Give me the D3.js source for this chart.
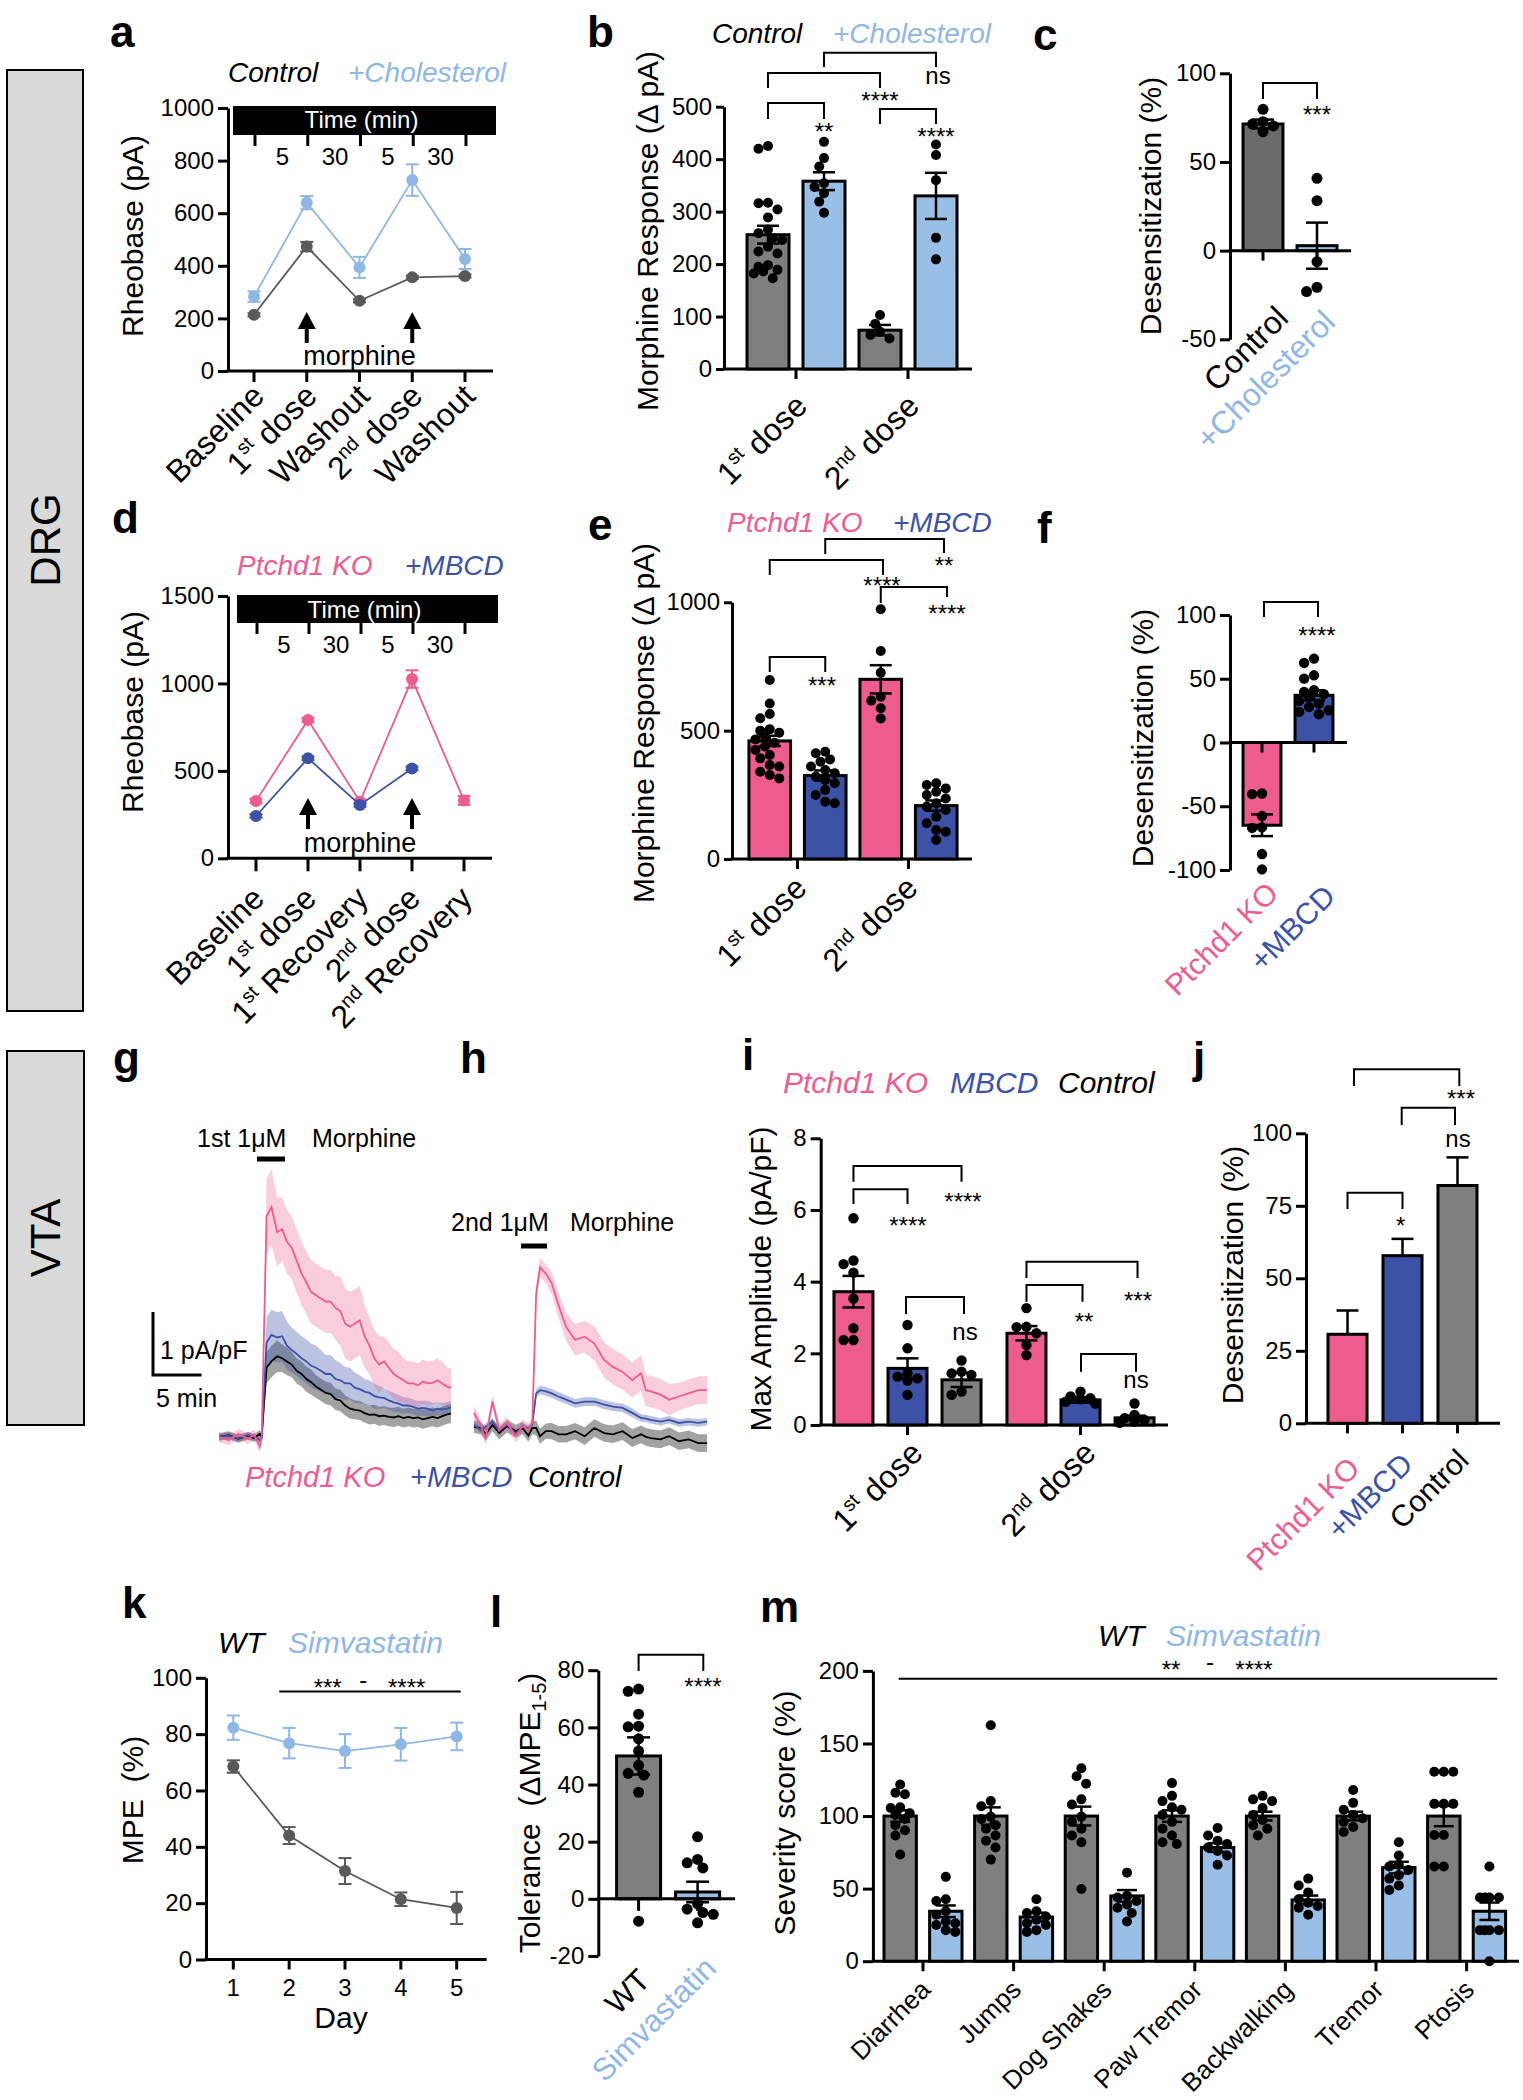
<!DOCTYPE html>
<html><head><meta charset="utf-8">
<script src="https://cdn.jsdelivr.net/npm/d3@7"></script>
<style>
body{margin:0;background:#fff;}
svg{display:block;}
</style></head><body>
<svg id="fig" width="1523" height="2100"></svg>
<script>
// ---------------- DATA ----------------
// panel a
const catsA = ['Baseline','1st dose','Washout','2nd dose','Washout'];
const ctrlA = [214,473,267,356,361];
const ctrlAErr = [6,18,6,6,6];
const cholA = [283,640,394,726,426];
const cholAErr = [20,25,40,60,38];
const timeLabels = ['5','30','5','30'];
// panel b
const groupsB = ['1st dose','2nd dose'];
const seriesB = ['Control','+Cholesterol'];
const ctrlB = [256,74], ctrlBErr = [17,10];
const cholB = [358,330], cholBErr = [17,44];
const ctrlBDots = [[425,420,317,316,304,289,266,259,249,246,233,224,220,198,195,189,186,182,173],[103,86,71,65,58]];
const cholBDots = [[433,402,386,354,347,335,319,298],[428,408,360,250,209]];
// panel c
const catsC = ['Control','+Cholesterol'];
const valsC = [71.4,2.8], errsC = [2.5,13];
const dotsC = [[79.7,72.7,71.4,70.3,67.1],[40.8,28.2,-6.2,-20.7,-23.1]];
// panel d
const catsD = ['Baseline','1st dose','1st Recovery','2nd dose','2nd Recovery'];
const koD = [328,791,324,1025,331], koDErr = [12,12,12,50,25];
const mbcdD = [242,572,305,514], mbcdDErr = [10,10,10,10];
// panel e
const groupsE = ['1st dose','2nd dose'];
const seriesE = ['Ptchd1 KO','+MBCD'];
const koE = [460,700], koEErr = [20,55];
const mbcdE = [325,208], mbcdEErr = [20,20];
const koEDots = [[697,606,565,548,505,500,492,477,466,453,438,425,405,392,366,360,340,327,314],[973,810,726,632,617,587,547]];
const mbcdEDots = [[418,412,388,379,360,347,334,321,308,295,269,249,223,217],[295,288,275,262,249,236,217,204,191,165,139,113,106,74]];
// panel f
const catsF = ['Ptchd1 KO','+MBCD'];
const valsF = [-64.9,37], errsF = [8.5,4];
const dotsF = [[-40,-40.5,-57.7,-66.6,-67,-87.5,-99.5],[65.8,62.4,52.7,50.1,41,39.7,37.9,35.8,32.6,30.5,27.9,25.3,24,22.2]];
// panel g (1st morphine) traces, time in min, current in pA/pF
const gTime = [0,1,2,3,3.6,4.2,4.4,4.9,5.4,6.0,6.5,7.0,7.5,8.0,8.5,9.0,9.5,10.0,10.5,11.0,11.5,12.0,12.5,13.0,13.5,14.0,14.5,15.0,15.5,16.0,16.5,17.0,17.5,18.0,18.5,19.0,19.5,20.0,20.5,21.0,21.5,22.0,22.5,23.0,23.5,23.9];
const gKO = [0.0,-0.05,0.05,-0.03,0.04,-0.15,0.0,3.5,3.65,3.25,3.3,3.1,3.0,2.8,2.6,2.45,2.3,2.25,2.2,2.15,2.15,2.05,2.0,1.8,1.75,1.8,1.85,1.6,1.45,1.25,1.15,1.2,1.1,1.0,0.95,0.9,0.85,0.85,0.82,0.88,0.85,0.86,0.9,0.85,0.8,0.78];
const gKOsem = [0.08,0.08,0.08,0.08,0.08,0.1,0.1,0.6,0.6,0.55,0.5,0.5,0.5,0.5,0.5,0.5,0.5,0.5,0.5,0.5,0.5,0.5,0.55,0.55,0.55,0.55,0.55,0.5,0.45,0.45,0.45,0.4,0.4,0.4,0.4,0.35,0.35,0.35,0.35,0.35,0.35,0.35,0.35,0.35,0.3,0.3];
const gMB = [0,0.02,-0.02,0.03,0,-0.05,0,1.5,1.62,1.58,1.6,1.45,1.38,1.32,1.25,1.2,1.13,1.1,1.05,1.0,1.0,0.92,0.9,0.85,0.85,0.78,0.76,0.72,0.7,0.65,0.63,0.62,0.58,0.55,0.53,0.5,0.5,0.48,0.45,0.46,0.45,0.42,0.45,0.44,0.45,0.47];
const gMBsem = [0.05,0.05,0.05,0.05,0.05,0.05,0.05,0.4,0.4,0.4,0.4,0.38,0.36,0.35,0.35,0.35,0.35,0.35,0.33,0.3,0.3,0.3,0.28,0.26,0.25,0.24,0.22,0.2,0.2,0.2,0.18,0.16,0.15,0.15,0.14,0.13,0.12,0.12,0.12,0.12,0.12,0.12,0.1,0.1,0.1,0.1];
const gCT = [0,0.03,-0.03,0.02,-0.02,0.05,0,1.1,1.2,1.28,1.25,1.2,1.15,1.05,1.0,0.92,0.87,0.8,0.75,0.7,0.68,0.6,0.58,0.5,0.45,0.43,0.42,0.38,0.35,0.36,0.33,0.34,0.32,0.31,0.33,0.3,0.32,0.3,0.31,0.28,0.3,0.32,0.3,0.33,0.36,0.37];
const gCTsem = [0.06,0.06,0.06,0.06,0.06,0.06,0.06,0.25,0.25,0.25,0.22,0.22,0.2,0.2,0.2,0.2,0.2,0.18,0.18,0.18,0.18,0.17,0.17,0.16,0.16,0.15,0.15,0.15,0.15,0.15,0.15,0.15,0.15,0.15,0.15,0.15,0.15,0.15,0.15,0.15,0.15,0.15,0.15,0.15,0.15,0.15];
// panel h (2nd morphine)
const hTime = [0,0.7,1.2,1.9,2.6,3.4,4.3,5.0,5.6,6.0,6.4,6.8,7.4,8.0,8.7,9.5,10.4,11.4,12.4,13.4,14.3,15.3,16.3,17.2,17.7,18.2,19.2,20.1,21.1,22.1,23.1,24.0];
const hKO = [0.24,0.03,-0.16,0.42,-0.03,0.08,-0.13,0.03,-0.03,0.08,2.13,2.55,2.45,2.3,1.95,1.6,1.4,1.45,1.34,1.08,0.97,0.89,0.76,0.87,0.6,0.58,0.53,0.45,0.5,0.55,0.6,0.6];
const hKOsem = [0.1,0.1,0.1,0.1,0.1,0.1,0.1,0.1,0.1,0.1,0.15,0.15,0.15,0.18,0.2,0.22,0.25,0.25,0.27,0.28,0.28,0.28,0.28,0.28,0.25,0.25,0.25,0.25,0.22,0.22,0.22,0.22];
const hMB = [0.05,-0.03,0.02,0.1,-0.05,0.05,-0.08,0.02,0.0,0.05,0.55,0.6,0.58,0.55,0.5,0.45,0.39,0.42,0.42,0.37,0.34,0.32,0.24,0.16,0.15,0.13,0.1,0.13,0.08,0.1,0.08,0.1];
const hMBsem = [0.05,0.05,0.05,0.05,0.05,0.05,0.05,0.05,0.05,0.05,0.06,0.07,0.07,0.07,0.07,0.07,0.07,0.07,0.07,0.07,0.07,0.07,0.07,0.06,0.06,0.06,0.06,0.06,0.06,0.06,0.06,0.06];
const hCT = [0.02,0.0,-0.1,0.05,-0.08,0.03,-0.05,0.0,-0.12,0.0,0.0,-0.13,-0.05,-0.05,-0.1,-0.1,-0.05,-0.13,0.0,-0.08,-0.1,-0.05,-0.16,-0.1,-0.14,-0.16,-0.18,-0.13,-0.21,-0.18,-0.24,-0.24];
const hCTsem = [0.1,0.1,0.1,0.1,0.1,0.1,0.1,0.1,0.1,0.1,0.12,0.12,0.12,0.13,0.13,0.13,0.13,0.14,0.14,0.14,0.14,0.14,0.14,0.14,0.14,0.14,0.14,0.14,0.14,0.14,0.14,0.14];
// panel i
const groupsI = ['1st dose','2nd dose'];
const seriesI = ['Ptchd1 KO','MBCD','Control'];
const koI = [3.72,2.56], koIErr = [0.44,0.2];
const mbcdI = [1.58,0.7], mbcdIErr = [0.28,0.08];
const ctrlI = [1.26,0.2], ctrlIErr = [0.2,0.06];
const koIDots = [[5.77,4.59,4.49,4.25,3.53,2.7,2.37,2.37],[3.26,2.74,2.73,2.56,2.23,1.95]];
const mbcdIDots = [[2.79,2.14,1.44,1.35,1.3,1.24,0.84],[0.93,0.8,0.75,0.72,0.65,0.6]];
const ctrlIDots = [[1.8,1.49,1.44,1.4,0.93,0.84],[0.6,0.28,0.19,0.14,0.09,0.06]];
// panel j
const catsJ = ['Ptchd1 KO','+MBCD','Control'];
const valsJ = [30.7,57.8,82];
const errsJ = [8.2,5.8,9.7];
// panel k
const daysK = [1,2,3,4,5];
const wtK = [68.5,44,31.4,21.4,18.3], wtKErr = [2.2,3,4.6,2.4,5.7];
const simK = [82.3,76.8,74,76.4,79.2], simKErr = [4.3,5.4,6,5.8,4.9];
// panel l
const catsL = ['WT','Simvastatin'];
const valsL = [50,2.4], errsL = [6.5,3.6];
const dotsL = [[73.4,72.6,64.6,60.4,60.2,56,51.7,46.7,43.9,43.3,37.3,-7.8],[21.7,13.8,12.6,10.8,-1.8,-3.6,-4.8,-5.4,-8.4]];
// panel m
const catsM = ['Diarrhea','Jumps','Dog Shakes','Paw Tremor','Backwalking','Tremor','Ptosis'];
const seriesM = ['WT','Simvastatin'];
const wtM = [100,100,100,100,100,100,100], wtMErr = [4,6,6.5,4,3,3,7];
const simM = [34.4,30.4,45,78.3,42.2,64.5,34.4], simMErr = [4,3,4,3,3,4,6];
const wtMDots = [
 [121.7,116,115,106,105.6,102,100.8,98,93.7,90.2,86.6,73.5],
 [162.5,110.3,106.8,99.6,98,93.7,91.3,86.6,83,78.3,70],
 [132.9,127.4,122.2,111.5,108,99.6,96,91.3,86.6,81.9,49.8],
 [122.7,113.9,110.3,106,104.4,100.8,96,91.3,86.6,81.9,80.7],
 [113.9,111.5,110.3,105.6,100.8,97.3,93.7,91.3,86.6],
 [117.9,109.1,104.4,100.8,98.5,96,92.5,89],
 [130.5,130.5,130.5,108.4,108.4,108.4,87,87,65.2,65.2]];
const simMDots = [
 [58.1,42.7,41.5,34.4,32,27.3,26.1,24.9,21.4,20.2],
 [42.7,34.4,33.2,30.8,28.5,26.1,24.9,21.4,20.2],
 [61,45,43.9,41.5,39.1,36.8,33.2,27.3],
 [91.8,86.6,83,80.7,78.3,75.9,72.8,66.4],
 [56.9,52.2,47.4,42.7,40.3,38,36.8,32],
 [81.9,72.8,66.4,65.2,62.9,59.3,56.9,52.2,49.1],
 [65.2,43.9,43.9,43.9,43.9,21.4,21.4,21.4,21.4,0]];

// ---------------- STYLE ----------------
const FONT = '"Liberation Sans", Arial, Helvetica, sans-serif';
const GRAY = '#7f7f7f', DGRAY = '#595959', LBLUE = '#8fb7e5', LBLUEBAR = '#99bfe7',
      PINK = '#ee5b8f', BLUE = '#3b52a6';
const svg = d3.select('#fig').attr('font-family', FONT);

function txt(x,y,s,o={}){
  const t = svg.append('text').attr('x',x).attr('y',y).text(s)
    .attr('font-size',o.fs||24).attr('fill',o.fill||'#000').attr('text-anchor',o.anchor||'start');
  if(o.italic) t.attr('font-style','italic');
  if(o.bold) t.attr('font-weight','bold');
  return t;
}
function letter(x,y,s){ txt(x,y,s,{fs:44,bold:true}); }
function ylabel(cx,cy,s,fs=30){
  return svg.append('text').attr('transform',`translate(${cx+11},${cy}) rotate(-90)`)
    .attr('text-anchor','middle').attr('font-size',fs).style('white-space','pre').text(s);
}
function stars(cx,cy,s,fs=24){ txt(cx, cy+0.59*fs, s, {fs, anchor:'middle'}); }
function line(x1,y1,x2,y2,sw=3,c='#000'){
  svg.append('line').attr('x1',x1).attr('y1',y1).attr('x2',x2).attr('y2',y2).attr('stroke',c).attr('stroke-width',sw);
}
function hline(x1,x2,y,sw=3){ line(x1,y,x2,y,sw); }
function vline(x,y1,y2,sw=3){ line(x,y1,x,y2,sw); }
function bracket(x1,x2,y,d1,d2){
  svg.append('path').attr('d',`M${x1},${d1}V${y}H${x2}V${d2}`).attr('fill','none').attr('stroke','#000').attr('stroke-width',2);
}
function yAxis(scale,x,ticks,o={}){
  const a = d3.axisLeft(scale).tickValues(ticks).tickSize(o.ts||10).tickPadding(o.tp||4).tickSizeOuter(0).tickFormat(d=>String(d));
  const g = svg.append('g').attr('transform',`translate(${x},0)`).call(a);
  g.attr('font-family',null).attr('font-size',null);
  g.select('.domain').attr('stroke','#000').attr('stroke-width',3);
  g.selectAll('.tick line').attr('stroke','#000').attr('stroke-width',3);
  g.selectAll('.tick text').attr('fill','#000').attr('font-size',o.fs||24);
  return g;
}
function catLabel(x,y,s,color='#000',fs=32){
  const t = svg.append('text').attr('transform',`translate(${x},${y}) rotate(-45)`)
    .attr('text-anchor','end').attr('font-size',fs).attr('fill',color);
  const m = s.match(/^(\d)(st|nd|rd|th)(.*)$/);
  if(m){
    t.append('tspan').text(m[1]);
    t.append('tspan').attr('font-size',fs*0.62).attr('dy',-fs*0.38).text(m[2]);
    t.append('tspan').attr('dy',fs*0.38).text(m[3]);
  } else t.text(s);
}
function swarm(vals,cx,y,r,half){
  const order = vals.map((v,i)=>({v,i})).sort((a,b)=>b.v-a.v);
  const placed=[], out=[]; const step=r*0.95, minD=2*r*0.9;
  for(const o of order){
    const py=y(o.v); let best=null, bestAlt=cx, bestScore=-1;
    for(let k=0;k*step<=half+0.01;k++){
      const cs = k===0?[0]:[-k*step,k*step];
      for(const dx of cs){
        const px=cx+dx;
        const md = placed.length? d3.min(placed,p=>Math.hypot(p.x-px,p.y-py)) : Infinity;
        if(md>=minD){ best=px; break; }
        if(md>bestScore){ bestScore=md; bestAlt=px; }
      }
      if(best!==null) break;
    }
    if(best===null) best=bestAlt;
    placed.push({x:best,y:py}); out[o.i]={x:best,y:py};
  }
  return out;
}
function drawBar(cx,w,v,y,fill){
  const y0=y(0), y1=y(v);
  svg.append('rect').attr('x',cx-w/2).attr('y',Math.min(y0,y1)).attr('width',w).attr('height',Math.abs(y1-y0))
    .attr('fill',fill).attr('stroke','#000').attr('stroke-width',3);
}
function drawDots(vals,cx,y,r,half){
  swarm(vals,cx,y,r,half).forEach(p=>svg.append('circle').attr('cx',p.x).attr('cy',p.y).attr('r',r).attr('fill','#000'));
}
function drawErr(cx,m,e,y,cap,color='#000',sw=2.5,upOnly=false){
  const yt=y(m+e), yb=upOnly?y(m):y(m-e);
  line(cx,yt,cx,yb,sw,color);
  line(cx-cap/2,yt,cx+cap/2,yt,sw,color);
  if(!upOnly) line(cx-cap/2,yb,cx+cap/2,yb,sw,color);
}
function arrow(x,yTip,yEnd){
  svg.append('path').attr('d',`M${x-9},${yTip+17}L${x},${yTip}L${x+9},${yTip+17}Z`).attr('fill','#000');
  line(x,yTip+14,x,yEnd,4);
}
function lineSeries(xs,ys,vals,errs,color,r=6){
  const idx=d3.range(vals.length);
  svg.append('path').datum(idx).attr('d',d3.line().x(i=>xs(i)).y(i=>ys(vals[i])))
    .attr('fill','none').attr('stroke',color).attr('stroke-width',1.8);
  idx.forEach(i=>drawErr(xs(i),vals[i],errs[i],ys,13,color,2));
  idx.forEach(i=>svg.append('circle').attr('cx',xs(i)).attr('cy',ys(vals[i])).attr('r',r).attr('fill',color));
}
function timeBar(xs,x,y,w,h,tickY2,numY,textY){
  svg.append('rect').attr('x',x).attr('y',y).attr('width',w).attr('height',h).attr('fill','#000');
  txt(x+w/2-3,textY,'Time (min)',{fill:'#fff',anchor:'middle'});
  xs.domain().forEach(i=>vline(xs(i)+1,y+h,tickY2));
  timeLabels.forEach((s,i)=>txt((xs(i)+xs(i+1))/2+2,numY,s,{anchor:'middle'}));
}

// ---------------- SIDE BOXES ----------------
svg.append('rect').attr('x',7).attr('y',70).attr('width',76).attr('height',941).attr('fill','#d9d9d9').attr('stroke','#000').attr('stroke-width',2);
svg.append('text').attr('transform','translate(60,540) rotate(-90)').attr('text-anchor','middle').attr('font-size',42).text('DRG');
svg.append('rect').attr('x',7).attr('y',1051).attr('width',77).attr('height',374).attr('fill','#d9d9d9').attr('stroke','#000').attr('stroke-width',2);
svg.append('text').attr('transform','translate(60,1238) rotate(-90)').attr('text-anchor','middle').attr('font-size',42).text('VTA');

// ---------------- PANEL a ----------------
letter(110,47,'a');
txt(228,82,'Control',{fs:28,italic:true});
txt(348,82,'+Cholesterol',{fs:28,italic:true,fill:LBLUE});
const xA = d3.scalePoint().domain(d3.range(catsA.length)).range([254,465]);
const yA = d3.scaleLinear().domain([0,1000]).range([371,108]);
yAxis(yA,228,[0,200,400,600,800,1000]);
hline(226.5,493,yA(0));
xA.domain().forEach(i=>vline(xA(i),yA(0),yA(0)+11));
timeBar(xA,233,106,263,29,146,165,128);
arrow(xA(1),312,343); arrow(xA(3),312,343);
txt((xA(1)+xA(3))/2,365,'morphine',{fs:27,anchor:'middle'});
lineSeries(xA,yA,ctrlA,ctrlAErr,DGRAY);
lineSeries(xA,yA,cholA,cholAErr,LBLUE);
ylabel(132,236,'Rheobase (pA)');
catsA.forEach((s,i)=>catLabel(xA(i)+12,yA(0)+27,s));

// ---------------- PANEL b ----------------
letter(587,47,'b');
txt(712,43,'Control',{fs:28,italic:true});
txt(833,43,'+Cholesterol',{fs:28,italic:true,fill:LBLUE});
const x0B = d3.scaleBand().domain(groupsB).range([740,964]);
const x1B = d3.scaleBand().domain(seriesB).range([0,x0B.bandwidth()]).paddingInner(0.25).paddingOuter(0.125);
const yB = d3.scaleLinear().domain([0,500]).range([369,106.7]);
yAxis(yB,724,[0,100,200,300,400,500],{ts:8});
hline(722.5,972,yB(0));
groupsB.forEach(g=>vline(x0B(g)+x0B.bandwidth()/2,yB(0),yB(0)+10));
const cB = (g,s)=>x0B(g)+x1B(s)+x1B.bandwidth()/2;
groupsB.forEach((g,i)=>{
  drawBar(cB(g,'Control'),x1B.bandwidth(),ctrlB[i],yB,GRAY);
  drawBar(cB(g,'+Cholesterol'),x1B.bandwidth(),cholB[i],yB,LBLUEBAR);
  drawDots(ctrlBDots[i],cB(g,'Control'),yB,5,17);
  drawDots(cholBDots[i],cB(g,'+Cholesterol'),yB,5,17);
  drawErr(cB(g,'Control'),ctrlB[i],ctrlBErr[i],yB,22);
  drawErr(cB(g,'+Cholesterol'),cholB[i],cholBErr[i],yB,22);
});
bracket(cB('1st dose','+Cholesterol'),cB('2nd dose','+Cholesterol'),52.7,67,67);
txt(cB('2nd dose','+Cholesterol')+2,84,'ns',{anchor:'middle'});
bracket(cB('1st dose','Control'),cB('2nd dose','Control'),73,88,88);
stars(cB('2nd dose','Control'),95,'****');
bracket(cB('1st dose','Control'),cB('1st dose','+Cholesterol'),103,119,119);
stars(cB('1st dose','+Cholesterol'),126,'**');
bracket(cB('2nd dose','Control'),cB('2nd dose','+Cholesterol'),109,124,124);
stars(cB('2nd dose','+Cholesterol'),131,'****');
ylabel(647,231,'Morphine Response (\u0394 pA)');
groupsB.forEach(g=>catLabel(x0B(g)+x0B.bandwidth()/2+13,yB(0)+39,g));

// ---------------- PANEL c ----------------
letter(1033,50,'c');
const xC = d3.scaleBand().domain(catsC).range([1236,1344]).paddingInner(0.26).paddingOuter(0.13);
const yC = d3.scaleLinear().domain([-50,100]).range([339.3,73.3]);
const cC = s=>xC(s)+xC.bandwidth()/2;
yAxis(yC,1230,[-50,0,50,100]);
hline(1228.5,1351,yC(0));
catsC.forEach(s=>vline(cC(s),yC(0),yC(0)+10));
catsC.forEach((s,i)=>drawBar(cC(s),xC.bandwidth(),valsC[i],yC,i?LBLUEBAR:'#6b6b6b'));
catsC.forEach((s,i)=>drawDots(dotsC[i],cC(s),yC,5.5,17));
catsC.forEach((s,i)=>drawErr(cC(s),valsC[i],errsC[i],yC,22));
bracket(cC('Control'),cC('+Cholesterol'),83,99,99);
stars(cC('+Cholesterol'),109,'***');
ylabel(1150,206,'Desensitization (%)');
catLabel(1290,320,'Control');
catLabel(1337,324,'+Cholesterol',LBLUE);

// ---------------- PANEL d ----------------
letter(112,533,'d');
txt(237,575,'Ptchd1 KO',{fs:28,italic:true,fill:PINK});
txt(405,575,'+MBCD',{fs:28,italic:true,fill:BLUE});
const xD = d3.scalePoint().domain(d3.range(catsD.length)).range([256,464]);
const yD = d3.scaleLinear().domain([0,1500]).range([858.3,596]);
yAxis(yD,228,[0,500,1000,1500]);
hline(226.5,492,yD(0));
xD.domain().forEach(i=>vline(xD(i),yD(0),yD(0)+13));
timeBar(xD,237,595,261,28,634,653,618);
arrow(xD(1),798,829); arrow(xD(3),798,829);
txt((xD(1)+xD(3))/2,852,'morphine',{fs:27,anchor:'middle'});
lineSeries(xD,yD,koD,koDErr,PINK);
lineSeries(xD,yD,mbcdD,mbcdDErr,BLUE);
ylabel(132,712,'Rheobase (pA)');
catsD.forEach((s,i)=>catLabel(xD(i)+10,yD(0)+42,s));

// ---------------- PANEL e ----------------
letter(588,540,'e');
txt(727,532,'Ptchd1 KO',{fs:28,italic:true,fill:PINK});
txt(893,532,'+MBCD',{fs:28,italic:true,fill:BLUE});
const x0E = d3.scaleBand().domain(groupsE).range([742,964]);
const x1E = d3.scaleBand().domain(seriesE).range([0,x0E.bandwidth()]).paddingInner(0.25).paddingOuter(0.125);
const yE = d3.scaleLinear().domain([0,1000]).range([859,602.3]);
const cE = (g,s)=>x0E(g)+x1E(s)+x1E.bandwidth()/2;
yAxis(yE,732,[0,500,1000],{ts:8});
hline(730.5,972,yE(0));
groupsE.forEach(g=>vline(x0E(g)+x0E.bandwidth()/2,yE(0),yE(0)+10));
groupsE.forEach((g,i)=>{
  drawBar(cE(g,'Ptchd1 KO'),x1E.bandwidth(),koE[i],yE,PINK);
  drawBar(cE(g,'+MBCD'),x1E.bandwidth(),mbcdE[i],yE,BLUE);
  drawDots(koEDots[i],cE(g,'Ptchd1 KO'),yE,5,17);
  drawDots(mbcdEDots[i],cE(g,'+MBCD'),yE,5,17);
  drawErr(cE(g,'Ptchd1 KO'),koE[i],koEErr[i],yE,22);
  drawErr(cE(g,'+MBCD'),mbcdE[i],mbcdEErr[i],yE,22);
});
bracket(cE('1st dose','+MBCD'),944,539,554,553);
stars(944,560,'**');
bracket(cE('1st dose','Ptchd1 KO'),883,560,575,575);
stars(882,580,'****');
bracket(cE('2nd dose','Ptchd1 KO'),947,587,603,597);
stars(947,607.5,'****');
bracket(cE('1st dose','Ptchd1 KO'),cE('1st dose','+MBCD'),657,672,672);
stars(822,679.5,'***');
ylabel(643,723,'Morphine Response (\u0394 pA)');
groupsE.forEach(g=>catLabel(x0E(g)+x0E.bandwidth()/2+11,yE(0)+31,g));

// ---------------- PANEL f ----------------
letter(1037,543,'f');
const xF = d3.scaleBand().domain(catsF).range([1236,1340]).paddingInner(0.27).paddingOuter(0.135);
const yF = d3.scaleLinear().domain([-100,100]).range([870,615]);
const cF = s=>xF(s)+xF.bandwidth()/2;
yAxis(yF,1230,[-100,-50,0,50,100]);
catsF.forEach((s,i)=>drawBar(cF(s),xF.bandwidth(),valsF[i],yF,i?BLUE:PINK));
hline(1228.5,1347,yF(0));
catsF.forEach(s=>vline(cF(s),yF(0),yF(0)+10));
catsF.forEach((s,i)=>drawDots(dotsF[i],cF(s),yF,5.2,16));
catsF.forEach((s,i)=>drawErr(cF(s),valsF[i],errsF[i],yF,22));
bracket(1264,1318,602,617,617);
stars(1317,630,'****');
ylabel(1142,738,'Desensitization (%)');
catLabel(1280,895,'Ptchd1 KO',PINK,30);
catLabel(1337,898,'+MBCD',BLUE,30);

// ---------------- PANELS g, h ----------------
letter(113,1073,'g'); letter(460,1073,'h');
function traces(xs,ys,time,series){
  series.forEach(s=>{
    const idx=d3.range(time.length);
    svg.append('path').datum(idx).attr('d',d3.area().x(i=>xs(time[i])).y0(i=>ys(s.m[i]-s.e[i])).y1(i=>ys(s.m[i]+s.e[i])))
      .attr('fill',s.band).attr('fill-opacity',s.op);
  });
  series.forEach(s=>{
    const idx=d3.range(time.length);
    svg.append('path').datum(idx).attr('d',d3.line().x(i=>xs(time[i])).y(i=>ys(s.m[i])))
      .attr('fill','none').attr('stroke',s.c).attr('stroke-width',1.8);
  });
}
const xG = d3.scaleLinear().domain([0,23.9]).range([219,451]);
const yG = d3.scaleLinear().domain([0,1]).range([1437,1374]);
traces(xG,yG,gTime,[
  {m:gCT,e:gCTsem,c:'#000',band:'#555',op:0.55},
  {m:gMB,e:gMBsem,c:BLUE,band:BLUE,op:0.35},
  {m:gKO,e:gKOsem,c:PINK,band:PINK,op:0.3}]);
const xH = d3.scaleLinear().domain([0,24.3]).range([474,710]);
const yH = d3.scaleLinear().domain([0,1]).range([1428,1365]);
traces(xH,yH,hTime,[
  {m:hCT,e:hCTsem,c:'#000',band:'#555',op:0.55},
  {m:hMB,e:hMBsem,c:BLUE,band:BLUE,op:0.35},
  {m:hKO,e:hKOsem,c:PINK,band:PINK,op:0.3}]);
txt(197,1147,'1st 1\u03bcM',{fs:25}); txt(312,1147,'Morphine',{fs:25});
line(257,1159,285,1159,5);
txt(451,1231,'2nd 1\u03bcM',{fs:25}); txt(570,1231,'Morphine',{fs:25});
line(521,1246,547,1246,5);
// scale bar: 1 pA/pF and 5 min
const sbX = 153, sbY = 1375;
svg.append('path').attr('d',`M${sbX},${sbY-(yG(0)-yG(1))}V${sbY}H${sbX+(xG(5)-xG(0))}`).attr('fill','none').attr('stroke','#000').attr('stroke-width',3);
txt(160,1359,'1 pA/pF',{fs:25});
txt(156,1407,'5 min',{fs:25});
txt(245,1487,'Ptchd1 KO',{fs:29,italic:true,fill:PINK});
txt(410,1487,'+MBCD',{fs:29,italic:true,fill:BLUE});
txt(528,1487,'Control',{fs:29,italic:true});

// ---------------- PANEL i ----------------
letter(742,1070,'i');
txt(783,1093,'Ptchd1 KO',{fs:30,italic:true,fill:PINK});
txt(950,1093,'MBCD',{fs:30,italic:true,fill:BLUE});
txt(1058,1093,'Control',{fs:30,italic:true});
const x0I = d3.scaleBand().domain(groupsI).range([821,1167]);
const x1I = d3.scaleBand().domain(seriesI).range([0,x0I.bandwidth()]).paddingInner(0.278).paddingOuter(0.24);
const yI = d3.scaleLinear().domain([0,8]).range([1425,1138.3]);
const cI = (g,s)=>x0I(g)+x1I(s)+x1I.bandwidth()/2;
yAxis(yI,820.7,[0,2,4,6,8]);
hline(819,1168,yI(0));
groupsI.forEach(g=>vline(x0I(g)+x0I.bandwidth()/2,yI(0),yI(0)+10));
const serI = [
  {s:'Ptchd1 KO',v:koI,e:koIErr,d:koIDots,f:PINK},
  {s:'MBCD',v:mbcdI,e:mbcdIErr,d:mbcdIDots,f:BLUE},
  {s:'Control',v:ctrlI,e:ctrlIErr,d:ctrlIDots,f:GRAY}];
groupsI.forEach((g,i)=>serI.forEach(o=>drawBar(cI(g,o.s),x1I.bandwidth(),o.v[i],yI,o.f)));
groupsI.forEach((g,i)=>serI.forEach(o=>drawDots(o.d[i],cI(g,o.s),yI,5.2,17)));
groupsI.forEach((g,i)=>serI.forEach(o=>drawErr(cI(g,o.s),o.v[i],o.e[i],yI,22)));
bracket(cI('1st dose','Ptchd1 KO'),cI('1st dose','Control'),1166,1181.7,1181.7);
stars(963,1195.5,'****');
bracket(cI('1st dose','Ptchd1 KO'),cI('1st dose','MBCD'),1189.3,1204,1204);
stars(908,1220,'****');
bracket(906,964,1297,1314,1314);
txt(965,1340,'ns',{anchor:'middle'});
bracket(cI('2nd dose','Ptchd1 KO'),cI('2nd dose','Control')+3,1261.7,1278,1278);
stars(1138,1294.5,'***');
bracket(cI('2nd dose','Ptchd1 KO'),cI('2nd dose','MBCD')+2,1285,1301.7,1301.7);
stars(1084,1316,'**');
bracket(1081,1136,1354,1371.7,1371.7);
txt(1136,1388,'ns',{anchor:'middle'});
ylabel(760,1279,'Max Amplitude (pA/pF)');
groupsI.forEach(g=>catLabel(x0I(g)+x0I.bandwidth()/2+17,yI(0)+30,g));

// ---------------- PANEL j ----------------
letter(1193,1073,'j');
const xJ = d3.scaleBand().domain(catsJ).range([1306,1499]).paddingInner(0.29).paddingOuter(0.4);
const yJ = d3.scaleLinear().domain([0,100]).range([1423.3,1133.3]);
const cJ = s=>xJ(s)+xJ.bandwidth()/2;
yAxis(yJ,1306,[0,25,50,75,100]);
hline(1304.5,1500,yJ(0));
catsJ.forEach(s=>vline(cJ(s),yJ(0),yJ(0)+10));
const fillJ = [PINK,BLUE,GRAY];
catsJ.forEach((s,i)=>drawErr(cJ(s),valsJ[i],errsJ[i],yJ,22,'#000',2.5,true));
catsJ.forEach((s,i)=>drawBar(cJ(s),xJ.bandwidth(),valsJ[i],yJ,fillJ[i]));
bracket(1354,1459.3,1069.3,1086,1086);
stars(1461,1092.5,'***');
bracket(1401.7,1455,1107.7,1125,1125);
txt(1458,1146.7,'ns',{anchor:'middle'});
bracket(cJ('Ptchd1 KO'),cJ('+MBCD'),1192.7,1209,1209);
stars(1400.7,1220,'*');
ylabel(1232,1275,'Desensitization (%)');
catLabel(cJ('Ptchd1 KO')+14,1470,'Ptchd1 KO',PINK,30);
catLabel(cJ('+MBCD')+12,1466,'+MBCD',BLUE,30);
catLabel(cJ('Control')+13,1462,'Control','#000',30);

// ---------------- PANEL k ----------------
letter(122,1618,'k');
txt(218,1653,'WT',{fs:30,italic:true});
txt(288,1653,'Simvastatin',{fs:30,italic:true,fill:LBLUE});
const xK = d3.scalePoint().domain(daysK).range([233.3,456.7]);
const yK = d3.scaleLinear().domain([0,100]).range([1959.5,1677.8]);
yAxis(yK,206,[0,20,40,60,80,100]);
hline(204.5,486.7,yK(0));
daysK.forEach(d=>{ vline(xK(d),yK(0),yK(0)+10); txt(xK(d),1995.7,String(d),{anchor:'middle'}); });
txt(341,2028,'Day',{fs:30,anchor:'middle'});
const kIdx = d3.scalePoint().domain(d3.range(daysK.length)).range([233.3,456.7]);
lineSeries(kIdx,yK,wtK,wtKErr,DGRAY);
lineSeries(kIdx,yK,simK,simKErr,LBLUE);
hline(279.3,460.7,1691.6,2);
stars(327.7,1682,'***'); txt(363.3,1682+0.27*24,'-',{anchor:'middle'}); stars(406.7,1682,'****');
ylabel(131.7,1800,'MPE  (%)');

// ---------------- PANEL l ----------------
letter(490,1627,'l');
const xL = d3.scaleBand().domain(catsL).range([598.3,737.9]).paddingInner(0.254).paddingOuter(0.31);
const yL = d3.scaleLinear().domain([-20,80]).range([1956,1670.2]);
const cL = s=>xL(s)+xL.bandwidth()/2;
yAxis(yL,598.3,[-20,0,20,40,60,80]);
catsL.forEach((s,i)=>drawBar(cL(s),xL.bandwidth(),valsL[i],yL,i?LBLUEBAR:GRAY));
hline(596.8,735,yL(0));
catsL.forEach(s=>vline(cL(s),yL(0),yL(0)+12));
catsL.forEach((s,i)=>drawDots(dotsL[i],cL(s),yL,5.5,20));
catsL.forEach((s,i)=>drawErr(cL(s),valsL[i],errsL[i],yL,23));
bracket(cL('WT'),703.3,1654.7,1671,1671);
stars(703,1681,'****');
{
  const t = svg.append('text').attr('transform','translate(540,1813) rotate(-90)').attr('text-anchor','middle').attr('font-size',30).style('white-space','pre');
  t.append('tspan').text('Tolerance  (\u0394MPE');
  t.append('tspan').attr('font-size',20).attr('dy',6).text('1-5');
  t.append('tspan').attr('dy',-6).text(')');
}
catLabel(652,1982,'WT','#000',31);
catLabel(718,1970,'Simvastatin',LBLUE,31);

// ---------------- PANEL m ----------------
letter(760,1622,'m');
txt(1098,1646,'WT',{fs:30,italic:true});
txt(1166,1646,'Simvastatin',{fs:30,italic:true,fill:LBLUE});
const x0M = d3.scaleBand().domain(catsM).range([877.7,1511.9]);
const x1M = d3.scaleBand().domain(seriesM).range([0,x0M.bandwidth()]).paddingInner(0.29).paddingOuter(0.138);
const yM = d3.scaleLinear().domain([0,200]).range([1961.2,1670.9]);
const cM = (g,s)=>x0M(g)+x1M(s)+x1M.bandwidth()/2;
yAxis(yM,872.9,[0,50,100,150,200]);
hline(871.4,1519,yM(0));
catsM.forEach(g=>vline(x0M(g)+x0M.bandwidth()/2,yM(0),yM(0)+10));
catsM.forEach((g,i)=>{
  drawBar(cM(g,'WT'),x1M.bandwidth(),wtM[i],yM,GRAY);
  drawBar(cM(g,'Simvastatin'),x1M.bandwidth(),simM[i],yM,LBLUEBAR);
  drawDots(wtMDots[i],cM(g,'WT'),yM,5,14);
  drawDots(simMDots[i],cM(g,'Simvastatin'),yM,5,14);
  drawErr(cM(g,'WT'),wtM[i],wtMErr[i],yM,20);
  drawErr(cM(g,'Simvastatin'),simM[i],simMErr[i],yM,20);
});
hline(898.7,1497.2,1678.8,2);
stars(1171,1664,'**'); txt(1210,1664+0.27*24,'-',{anchor:'middle'}); stars(1254,1664,'****');
ylabel(784,1813,'Severity score (%)');
catsM.forEach(g=>catLabel(x0M(g)+x0M.bandwidth()/2+9,yM(0)+30,g,'#000',26));
</script>
</body></html>
